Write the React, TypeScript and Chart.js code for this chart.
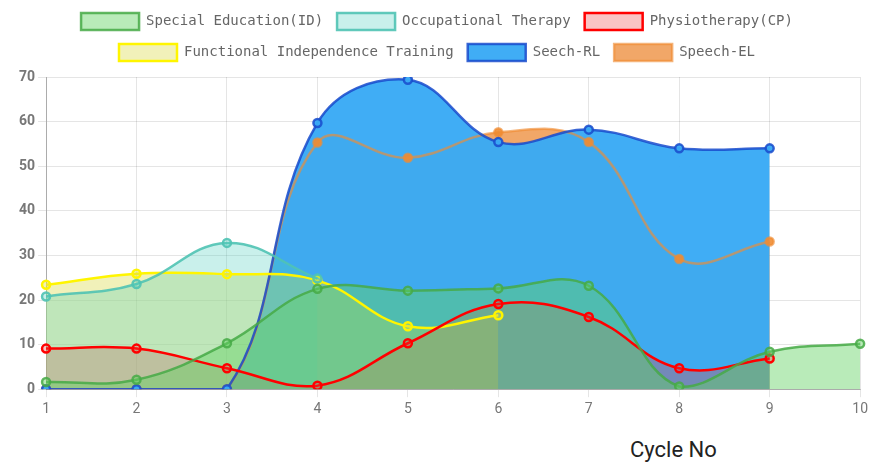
import React, { useEffect, useRef } from "react";
import { Chart, registerables } from "chart.js";

Chart.register(...registerables);

const cycles = ["1", "2", "3", "4", "5", "6", "7", "8", "9", "10"];
const specialEducation = [1.6, 2.1, 10.3, 22.5, 22.1, 22.6, 23.2, 0.6, 8.4, 10.2];
const occupationalTherapy = [20.8, 23.6, 32.8, 24.8];
const physiotherapy = [9.1, 9.1, 4.7, 0.8, 10.3, 19.1, 16.2, 4.7, 6.9];
const functionalIndependence = [23.4, 25.9, 25.8, 24.4, 14.1, 16.6];
const seechRL = [0, 0, 0, 59.7, 69.4, 55.4, 58.2, 54.0, 54.0];
const speechEL = [0, 0, 0, 55.3, 51.9, 57.6, 55.4, 29.2, 33.1];

const legendGap = {
  id: "legendGap",
  beforeInit(chart: any) {
    const legend = chart.legend;
    if (!legend) return;
    const orig = legend.fit;
    legend.fit = function () {
      orig.call(this);
      this.height += 6;
    };
  },
};

export default function App() {
  const ref = useRef<HTMLCanvasElement | null>(null);
  useEffect(() => {
    document.body.style.margin = "0";
    document.body.style.overflow = "hidden";
    if (!ref.current) return;
    const mk = (label: string, data: number[], border: string, bg: string, pointBg: string) => ({
      label,
      data,
      borderColor: border,
      backgroundColor: bg,
      pointBackgroundColor: pointBg,
      pointBorderColor: border,
      pointRadius: 4,
      pointBorderWidth: 2.5,
      borderWidth: 2.5,
      fill: "origin",
      tension: 0.4,
    });
    const chart = new Chart(ref.current, {
      type: "line",
      data: {
        labels: cycles,
        datasets: [
          mk("Special Education(ID)", specialEducation, "rgba(70,170,70,0.85)", "rgba(100,210,100,0.45)", "rgba(100,210,100,0.45)"),
          mk("Occupational Therapy", occupationalTherapy, "rgba(80,195,180,0.9)", "rgba(75,205,190,0.3)", "rgba(75,205,190,0.3)"),
          mk("Physiotherapy(CP)", physiotherapy, "rgb(255,0,0)", "rgba(240,60,60,0.3)", "rgba(240,60,60,0.3)"),
          mk("Functional Independence Training", functionalIndependence, "rgb(255,245,0)", "rgba(220,220,80,0.4)", "rgba(220,220,80,0.4)"),
          mk("Seech-RL", seechRL, "rgba(25,75,205,0.85)", "rgba(58,170,245,0.97)", "rgba(58,170,245,0.97)"),
          mk("Speech-EL", speechEL, "rgba(240,140,50,0.65)", "rgba(235,130,40,0.7)", "rgba(240,140,50,0.9)"),
        ],
      },
      plugins: [legendGap],
      options: {
        animation: false,
        responsive: true,
        maintainAspectRatio: false,
        layout: { padding: { left: 0, right: 6, top: 0, bottom: 0 } },
        plugins: {
          filler: { drawTime: "beforeDatasetsDraw" } as any,
          tooltip: { enabled: false },
          legend: {
            position: "top",
            labels: {
              boxWidth: 58,
              boxHeight: 17,
              padding: 14,
              color: "#666",
              font: { family: "'DejaVu Sans Mono', monospace", size: 14 },
            },
          },
        },
        scales: {
          x: {
            grid: { color: "rgba(0,0,0,0.1)", tickLength: 8 },
            border: { color: "rgba(0,0,0,0.25)" },
            ticks: { color: "#777", font: { family: "Roboto", size: 14 }, padding: 4 },
          },
          y: {
            min: 0,
            max: 70,
            grid: { color: "rgba(0,0,0,0.1)", tickLength: 8 },
            border: { color: "rgba(0,0,0,0.25)" },
            ticks: { stepSize: 10, color: "#777", font: { family: "Roboto", size: 14, weight: "bold" }, padding: 3 },
            afterFit: (scale: any) => {
              scale.width += 8;
            },
          },
        },
      },
    });
    return () => chart.destroy();
  }, []);
  return (
    <div style={{ position: "relative", width: 869, height: 463, overflow: "hidden" }}>
      <div style={{ position: "absolute", left: 8, top: -1, width: 864, height: 423 }}>
        <canvas ref={ref} />
      </div>
      <div
        style={{
          position: "absolute",
          left: 630,
          top: 437,
          fontFamily: "Roboto, sans-serif",
          fontSize: 22,
          color: "#222",
          whiteSpace: "nowrap",
        }}
      >
        Cycle No
      </div>
    </div>
  );
}
